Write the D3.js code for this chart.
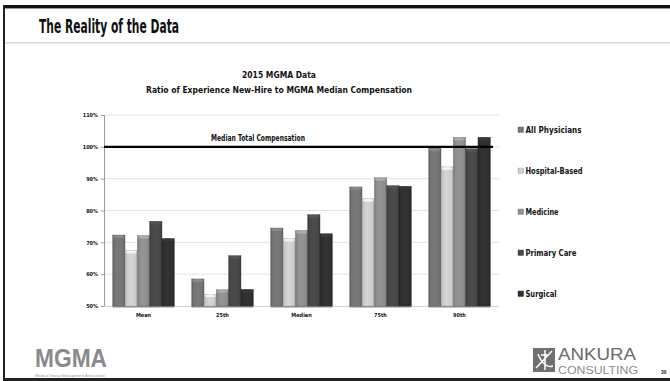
<!DOCTYPE html>
<html>
<head>
<meta charset="utf-8">
<script src="https://cdn.jsdelivr.net/npm/d3@7/dist/d3.min.js"></script>
<style>
  html, body { margin: 0; padding: 0; background: #fff; }
  svg { display: block; }
  text.cond { font-family: "Liberation Sans Narrow", "DejaVu Sans Condensed", "Arial Narrow", sans-serif; font-weight: bold; fill: #111; }
  .tick text { font-family: "Liberation Sans Narrow", "DejaVu Sans Condensed", sans-serif; font-weight: bold; fill: #111; }
</style>
</head>
<body>
<svg id="slide" width="670" height="381"></svg>
<script>
// Percentile groups along the x axis
const categories = ["Mean", "25th", "Median", "75th", "90th"];
// Physician segments (legend order)
const seriesNames = ["All Physicians", "Hospital-Based", "Medicine", "Primary Care", "Surgical"];
// Ratio of experienced new-hire pay to MGMA median, in percent
const allPhysicians = [72.3, 58.5, 74.5, 87.4, 99.6];
const hospitalBased = [67.5, 53.7, 71.2, 83.7, 93.7];
const medicine      = [72.1, 55.1, 73.7, 90.3, 103.0];
const primaryCare   = [76.6, 65.8, 78.7, 87.8, 99.4];
const surgical      = [71.2, 55.2, 72.7, 87.6, 103.0];
const seriesValues = [allPhysicians, hospitalBased, medicine, primaryCare, surgical];
// Y axis ticks and the reference line
const yTicks = [50, 60, 70, 80, 90, 100, 110];
const referenceValue = 100;
const referenceLabel = "Median Total Compensation";

const seriesColors = ["#737373", "#cbcbcb", "#8d8d8d", "#474747", "#2f2f2f"];
// approximate widths of the legend labels
const legendWidths = [56, 57, 33, 51, 31];

const svg = d3.select("#slide");

// ---- slide frame ----
svg.append("rect").attr("x", 0).attr("y", 0).attr("width", 670).attr("height", 381).attr("fill", "#fff");
svg.append("rect").attr("x", 3).attr("y", 5).attr("width", 667).attr("height", 3).attr("fill", "#111");
svg.append("rect").attr("x", 3).attr("y", 8).attr("width", 667).attr("height", 1).attr("fill", "#999");
svg.append("rect").attr("x", 3).attr("y", 5).attr("width", 2).attr("height", 376).attr("fill", "#222");
svg.append("rect").attr("x", 3).attr("y", 378).attr("width", 667).attr("height", 3).attr("fill", "#222");
svg.append("rect").attr("x", 5).attr("y", 42).attr("width", 665).attr("height", 1.5).attr("fill", "#d8d8d8");

svg.append("text").attr("class", "cond").attr("x", 39).attr("y", 33)
  .attr("font-size", 20).attr("textLength", 140).attr("lengthAdjust", "spacingAndGlyphs")
  .text("The Reality of the Data");

// ---- chart titles ----
svg.append("text").attr("class", "cond").attr("x", 279).attr("y", 78).attr("text-anchor", "middle")
  .attr("font-size", 9.5).attr("textLength", 74).attr("lengthAdjust", "spacingAndGlyphs")
  .text("2015 MGMA Data");
svg.append("text").attr("class", "cond").attr("x", 279).attr("y", 93).attr("text-anchor", "middle")
  .attr("font-size", 9.5).attr("textLength", 266).attr("lengthAdjust", "spacingAndGlyphs")
  .text("Ratio of Experience New-Hire to MGMA Median Compensation");

// ---- scales ----
const x = d3.scaleBand().domain(categories).range([104, 499]).paddingInner(0.22).paddingOuter(0.11);
const xs = d3.scaleBand().domain(seriesNames).range([0, x.bandwidth()]);
const y = d3.scaleLinear().domain([50, 110]).range([306, 115]);

// gradients giving the bars a rounded, column-like shading
const defs = svg.append("defs");
seriesColors.forEach((c, i) => {
  const base = d3.color(c);
  const g = defs.append("linearGradient").attr("id", "bar" + i).attr("x1", 0).attr("x2", 1).attr("y1", 0).attr("y2", 0);
  g.append("stop").attr("offset", "0%").attr("stop-color", base.darker(0.6));
  g.append("stop").attr("offset", "15%").attr("stop-color", base);
  g.append("stop").attr("offset", "45%").attr("stop-color", base.brighter(0.15));
  g.append("stop").attr("offset", "85%").attr("stop-color", base);
  g.append("stop").attr("offset", "100%").attr("stop-color", base.darker(0.7));
});

// ---- gridlines ----
const grid = svg.append("g");
grid.selectAll("line").data(yTicks.slice(1)).join("line")
  .attr("x1", 104).attr("x2", 499)
  .attr("y1", d => y(d)).attr("y2", d => y(d))
  .attr("stroke", "#e2e2e2").attr("stroke-width", 1);

// ---- y axis ----
const yAxis = svg.append("g").attr("transform", "translate(104,0)")
  .call(d3.axisLeft(y).tickValues(yTicks).tickFormat(d => d + "%").tickSize(3).tickPadding(3));
yAxis.select(".domain").attr("stroke", "#9a9a9a");
yAxis.selectAll(".tick line").attr("stroke", "#9a9a9a");
yAxis.selectAll(".tick text").attr("font-size", 5.5).attr("font-family", null);

// ---- x axis ----
const xAxis = svg.append("g").attr("transform", "translate(0,306)")
  .call(d3.axisBottom(x).tickSize(0).tickPadding(7));
xAxis.select(".domain").attr("stroke", "#d0d0d0").attr("d", "M104,0.5H499");
xAxis.selectAll(".tick text").attr("font-size", 5.5).attr("font-family", null);

// ---- bars ----
const groups = svg.append("g").selectAll("g").data(categories).join("g")
  .attr("transform", d => `translate(${x(d)},0)`);

groups.append("rect")
  .attr("x", 0).attr("y", 305.5).attr("width", x.bandwidth()).attr("height", 2)
  .attr("fill", "#8a8a8a");

const bars = groups.selectAll("g.bar")
  .data((cat, ci) => seriesNames.map((s, si) => ({ s, si, v: seriesValues[si][ci] })))
  .join("g").attr("class", "bar");

bars.append("rect")
  .attr("x", d => xs(d.s)).attr("width", xs.bandwidth())
  .attr("y", d => y(d.v)).attr("height", d => y(50) - y(d.v))
  .attr("fill", d => `url(#bar${d.si})`)
  .attr("stroke", d => d3.color(seriesColors[d.si]).darker(0.5)).attr("stroke-width", 0.4);

bars.append("ellipse")
  .attr("cx", d => xs(d.s) + xs.bandwidth() / 2).attr("cy", d => y(d.v) + 1.6)
  .attr("rx", d => xs.bandwidth() / 2 - 0.6).attr("ry", 1.5)
  .attr("fill", d => d3.color(seriesColors[d.si]).brighter(0.5));

// ---- reference line ----
svg.append("line").attr("x1", 104).attr("x2", 493)
  .attr("y1", y(referenceValue)).attr("y2", y(referenceValue))
  .attr("stroke", "#000").attr("stroke-width", 2.4);
svg.append("text").attr("class", "cond").attr("x", 258).attr("y", y(referenceValue) - 6).attr("text-anchor", "middle")
  .attr("font-size", 8).attr("textLength", 94).attr("lengthAdjust", "spacingAndGlyphs")
  .text(referenceLabel);

// ---- legend ----
const legend = svg.append("g").selectAll("g").data(seriesNames).join("g")
  .attr("transform", (d, i) => `translate(518,${130 + i * 41})`);
legend.append("rect").attr("x", 0).attr("y", -3).attr("width", 5.5).attr("height", 5.5)
  .attr("fill", (d, i) => `url(#bar${i})`)
  .attr("stroke", (d, i) => d3.color(seriesColors[i]).darker(0.4)).attr("stroke-width", 0.4);
legend.append("text").attr("class", "cond").attr("x", 7.5).attr("y", 3.3).attr("font-size", 9)
  .attr("textLength", (d, i) => legendWidths[i]).attr("lengthAdjust", "spacingAndGlyphs")
  .text(d => d);

// ---- footer logos ----
const logoFont = "'Liberation Sans', Arial, sans-serif";
const mg = svg.append("g");
mg.append("text").attr("x", 35).attr("y", 367)
  .attr("font-size", 25).attr("textLength", 72).attr("lengthAdjust", "spacingAndGlyphs")
  .style("font-family", logoFont).style("font-weight", "900").style("fill", "#8a8a8a")
  .text("MGMA");
mg.append("text").attr("x", 35).attr("y", 376.8)
  .attr("font-size", 3.4).attr("textLength", 70).attr("lengthAdjust", "spacingAndGlyphs")
  .style("font-family", logoFont).style("font-weight", "normal").style("fill", "#999")
  .text("Medical Group Management Association");

const ak = svg.append("g");
ak.append("rect").attr("x", 533).attr("y", 348).attr("width", 22).attr("height", 24).attr("fill", "#707070");
ak.append("path").attr("d", "M536,368 L552,351 M538,354 C542,364 548,368 553,366 M545,350 L545,370 M541,355 H549")
  .attr("stroke", "#fff").attr("stroke-width", 1.5).attr("fill", "none");
ak.append("text").attr("x", 558).attr("y", 360)
  .attr("font-size", 16).attr("textLength", 78).attr("lengthAdjust", "spacingAndGlyphs")
  .style("font-family", logoFont).style("font-weight", "normal").style("fill", "#6a6a6a")
  .text("ANKURA");
ak.append("text").attr("x", 558).attr("y", 374)
  .attr("font-size", 10).attr("textLength", 80).attr("lengthAdjust", "spacingAndGlyphs")
  .style("font-family", logoFont).style("font-weight", "normal").style("fill", "#8c8c8c")
  .text("CONSULTING");
svg.append("text").attr("x", 661).attr("y", 374).attr("font-size", 5)
  .style("font-family", logoFont).style("font-weight", "bold").style("fill", "#222")
  .text("30");
</script>
</body>
</html>
